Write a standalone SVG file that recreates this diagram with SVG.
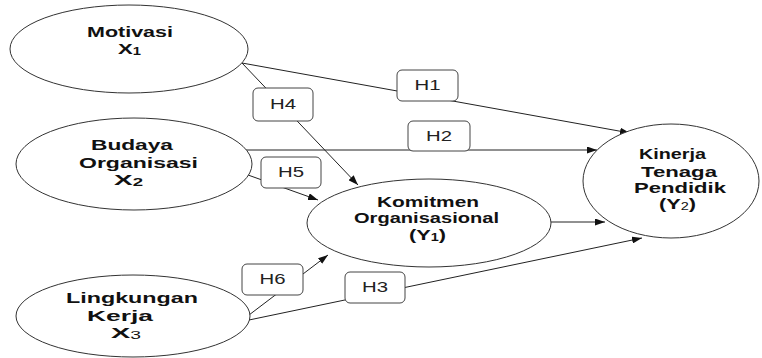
<svg xmlns="http://www.w3.org/2000/svg" width="762" height="358" viewBox="0 0 762 358">
<style>
.node ellipse{fill:#fff;stroke:#333;stroke-width:1}
.lbl{font-family:"Liberation Sans",Arial,sans-serif;font-weight:bold;font-size:15px;fill:#111}
.sub{font-size:10px}
.hbox rect{fill:#fff;stroke:#444;stroke-width:1}
.hbox text{font-family:"Liberation Sans",Arial,sans-serif;font-size:15px;fill:#222;text-anchor:middle}
.conn line{stroke:#222;stroke-width:1;marker-end:url(#ah)}
</style>
<defs>
<marker id="ah" markerWidth="10" markerHeight="7" refX="10" refY="3.5" orient="auto" markerUnits="userSpaceOnUse">
<path d="M0,0 L10,3.5 L0,7 z" fill="#111"/>
</marker>
</defs>
<rect width="762" height="358" fill="#fff"/>
<g id="connectors" class="conn">
<line x1="242" y1="63" x2="630" y2="133"/>
<line x1="242" y1="63" x2="358" y2="185"/>
<line x1="246" y1="150" x2="597" y2="150"/>
<line x1="248" y1="175" x2="318" y2="200"/>
<line x1="551" y1="222" x2="605" y2="222"/>
<line x1="249" y1="315" x2="328" y2="255"/>
<line x1="249" y1="320" x2="642" y2="238"/>
</g>
<g id="motivasi" class="node">
<ellipse cx="129" cy="49" rx="119" ry="44"/>
<text class="lbl" x="87" y="37" textLength="86" lengthAdjust="spacingAndGlyphs">Motivasi</text>
<text class="lbl" x="118" y="54" textLength="23" lengthAdjust="spacingAndGlyphs">X<tspan class="sub" dy="1">1</tspan></text>
</g>
<g id="budaya" class="node">
<ellipse cx="134" cy="164" rx="118" ry="46"/>
<text class="lbl" x="91" y="150" textLength="82" lengthAdjust="spacingAndGlyphs">Budaya</text>
<text class="lbl" x="79" y="168" textLength="119" lengthAdjust="spacingAndGlyphs">Organisasi</text>
<text class="lbl" x="114" y="185" textLength="29" lengthAdjust="spacingAndGlyphs">X<tspan class="sub" dy="1">2</tspan></text>
</g>
<g id="lingkungan" class="node">
<ellipse cx="133" cy="316" rx="117" ry="41"/>
<text class="lbl" x="66" y="303" textLength="132" lengthAdjust="spacingAndGlyphs">Lingkungan</text>
<text class="lbl" x="87" y="321" textLength="66" lengthAdjust="spacingAndGlyphs">Kerja</text>
<text class="lbl" x="111" y="338" textLength="30" lengthAdjust="spacingAndGlyphs">X<tspan class="sub" dy="1" font-weight="normal" font-size="8px">3</tspan></text>
</g>
<g id="komitmen" class="node">
<ellipse cx="429" cy="223" rx="122" ry="44"/>
<text class="lbl" x="377" y="207" textLength="102" lengthAdjust="spacingAndGlyphs">Komitmen</text>
<text class="lbl" x="354" y="223" textLength="145" lengthAdjust="spacingAndGlyphs">Organisasional</text>
<text class="lbl" x="409" y="240" textLength="37" lengthAdjust="spacingAndGlyphs">(Y<tspan class="sub" dy="1">1</tspan><tspan dy="-1">)</tspan></text>
</g>
<g id="kinerja" class="node">
<ellipse cx="671" cy="181" rx="88" ry="57"/>
<text class="lbl" x="639" y="159" textLength="67" lengthAdjust="spacingAndGlyphs">Kinerja</text>
<text class="lbl" x="641" y="177" textLength="76" lengthAdjust="spacingAndGlyphs">Tenaga</text>
<text class="lbl" x="634" y="193" textLength="92" lengthAdjust="spacingAndGlyphs">Pendidik</text>
<text class="lbl" x="659" y="209" textLength="37" lengthAdjust="spacingAndGlyphs">(Y<tspan class="sub" dy="1" font-weight="normal">2</tspan><tspan dy="-1">)</tspan></text>
</g>
<g id="h1" class="hbox"><rect x="397" y="70" width="61" height="31" rx="5"/><text x="427.5" y="90" textLength="26" lengthAdjust="spacingAndGlyphs">H1</text></g>
<g id="h2" class="hbox"><rect x="408" y="121" width="62" height="30" rx="5"/><text x="439" y="141" textLength="26" lengthAdjust="spacingAndGlyphs">H2</text></g>
<g id="h4" class="hbox"><rect x="253" y="88" width="60" height="33" rx="5"/><text x="283" y="109" textLength="26" lengthAdjust="spacingAndGlyphs">H4</text></g>
<g id="h5" class="hbox"><rect x="261" y="157" width="60" height="31" rx="5"/><text x="291" y="177" textLength="26" lengthAdjust="spacingAndGlyphs">H5</text></g>
<g id="h6" class="hbox"><rect x="242" y="264" width="61" height="31" rx="5"/><text x="272.5" y="284" textLength="26" lengthAdjust="spacingAndGlyphs">H6</text></g>
<g id="h3" class="hbox"><rect x="345" y="272" width="60" height="31" rx="5"/><text x="375" y="292" textLength="26" lengthAdjust="spacingAndGlyphs">H3</text></g>
</svg>
